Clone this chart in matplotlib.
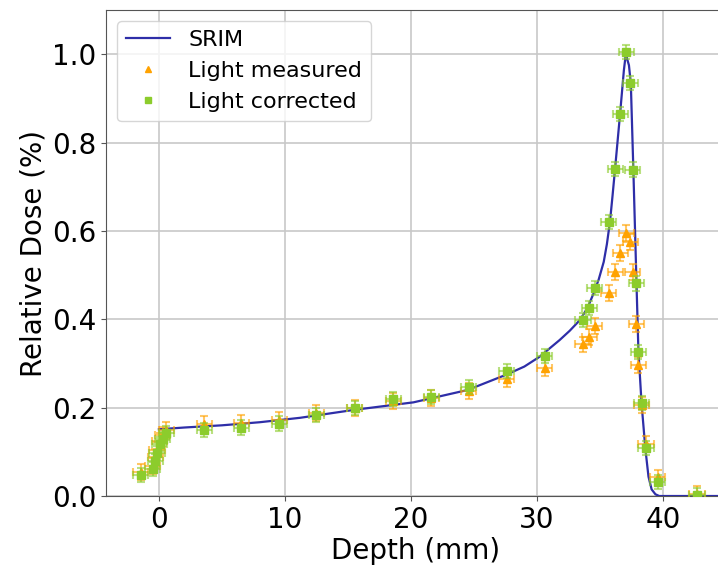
import numpy as np
import matplotlib
matplotlib.use("Agg")
import matplotlib.pyplot as plt

# ---------------------------------------------------------
# Data
# ---------------------------------------------------------

srim_depth = [0.0, 2.0, 5.0, 8.0, 11.2, 15.5, 20.2, 24.5, 27.6, 29.0,
              30.2, 31.8, 32.6, 33.4, 34.0, 34.5, 34.9, 35.3, 35.55, 35.8,
              36.0, 36.2, 36.6, 36.9, 37.05, 37.3, 37.45, 37.65, 37.9, 38.05,
              38.3, 38.6, 38.85, 39.1, 39.4, 39.7, 41.0, 43.0, 45.0]
srim_dose = [0.151, 0.155, 0.160, 0.167, 0.177, 0.195, 0.212, 0.240, 0.275, 0.293,
             0.315, 0.353, 0.374, 0.398, 0.425, 0.459, 0.490, 0.530, 0.570, 0.622,
             0.680, 0.741, 0.866, 0.964, 1.000, 0.975, 0.934, 0.739, 0.481, 0.330,
             0.210, 0.108, 0.044, 0.015, 0.004, 0.0, 0.0, 0.0, 0.0]

depth = [-1.45, -0.5, -0.3, -0.15, 0.05, 0.3, 0.6, 3.6, 6.55, 9.55,
         12.5, 15.55, 18.6, 21.6, 24.6, 27.6, 30.6, 33.65, 34.15, 34.6,
         35.7, 36.2, 36.6, 37.1, 37.4, 37.6, 37.9, 38.05, 38.3, 38.65,
         39.6, 42.7]

light_measured = [0.055, 0.068, 0.088, 0.105, 0.125, 0.138, 0.150, 0.163, 0.165, 0.172,
                  0.188, 0.200, 0.215, 0.222, 0.238, 0.264, 0.289, 0.343, 0.360, 0.385,
                  0.459, 0.506, 0.551, 0.595, 0.574, 0.506, 0.390, 0.296, 0.205, 0.118,
                  0.042, 0.005]

light_corrected = [0.048, 0.061, 0.080, 0.097, 0.118, 0.130, 0.142, 0.149, 0.155, 0.164,
                   0.183, 0.200, 0.219, 0.225, 0.246, 0.282, 0.316, 0.398, 0.425, 0.471,
                   0.621, 0.741, 0.864, 1.004, 0.934, 0.739, 0.481, 0.326, 0.210, 0.108,
                   0.032, 0.003]

DEPTH_ERR = 0.6
MEAS_ERR = 0.018
CORR_ERR = 0.016

C_SRIM = "#2e2ea8"
C_MEAS = "#ffa200"
C_CORR = "#8ccc2c"

# ---------------------------------------------------------
# Plot
# ---------------------------------------------------------

fig = plt.figure(figsize=(7.18, 5.65), dpi=100)
ax = fig.add_axes([0.1476, 0.1221, 0.8635, 0.8602])

ax.plot(srim_depth, srim_dose, color=C_SRIM, lw=1.6, label="SRIM", zorder=3)

ax.errorbar(depth, light_measured, xerr=DEPTH_ERR, yerr=MEAS_ERR,
            fmt="none", ecolor=C_MEAS, alpha=0.6, elinewidth=1.5,
            capsize=3, capthick=1.5, zorder=4)
ax.plot(depth, light_measured, "^", color=C_MEAS, ms=5.5,
        label="Light measured", zorder=4)

ax.errorbar(depth, light_corrected, xerr=DEPTH_ERR, yerr=CORR_ERR,
            fmt="none", ecolor=C_CORR, alpha=0.6, elinewidth=1.5,
            capsize=3, capthick=1.5, zorder=5)
ax.plot(depth, light_corrected, "s", color=C_CORR, ms=5.5,
        label="Light corrected", zorder=5)

ax.set_xlim(-4.2, 45)
ax.set_ylim(0, 1.1)
ax.set_xticks(np.arange(0, 41, 10))
ax.set_yticks(np.arange(0, 1.01, 0.2))

ax.grid(True, color="#c8c8c8", lw=1.2)
ax.set_axisbelow(True)

for spine in ax.spines.values():
    spine.set_color("#555555")

ax.tick_params(labelsize=20, color="#555555")
ax.set_xlabel("Depth (mm)", fontsize=20, labelpad=2)
ax.set_ylabel("Relative Dose (%)", fontsize=20, labelpad=3)

ax.legend(loc="upper left", fontsize=16, markerscale=0.75,
          handlelength=2.0, framealpha=0.8)

plt.savefig("out.png", dpi=100)
plt.close()
